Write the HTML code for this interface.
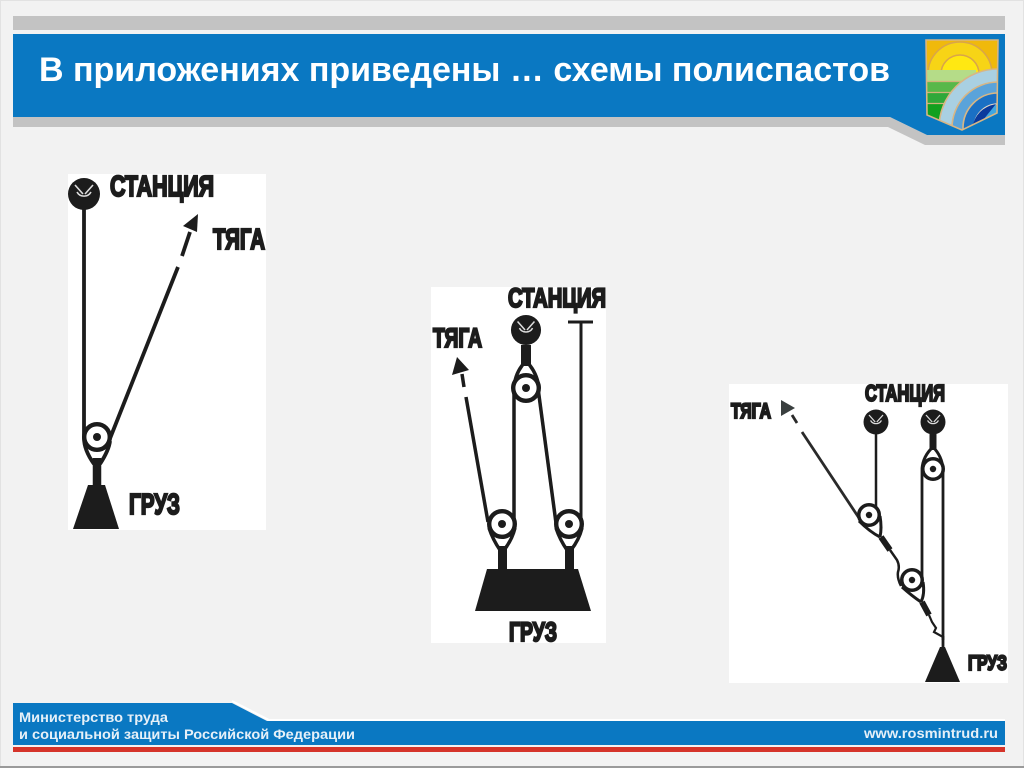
<!DOCTYPE html>
<html lang="ru">
<head>
<meta charset="utf-8">
<title>Схемы полиспастов</title>
<style>
html,body{margin:0;padding:0;width:1024px;height:768px;overflow:hidden;background:#f2f2f2}
svg{display:block}
.h{font-family:"Liberation Sans",sans-serif;font-weight:700;fill:#1c1c1c;stroke:#1c1c1c;stroke-width:2.200}
.t{font-family:"Liberation Sans",sans-serif;font-weight:700;fill:#fff}
.f{font-family:"Liberation Sans",sans-serif;font-weight:700;fill:#e6f0f8}
</style>
</head>
<body>
<svg width="1024" height="768" viewBox="0 0 1024 768" xmlns="http://www.w3.org/2000/svg">
<defs>
  <g id="st">
    <circle r="16" fill="#1c1c1c"/>
    <path d="M-9-9 L-1 0 M9-9 L1 0 M-7-2 A8 8 0 0 0 7-2" fill="none" stroke="#ddd" stroke-width="1.600"/>
    <path d="M-5-11 L0-4 L5-11" fill="none" stroke="#1c1c1c" stroke-width="1"/>
  </g>
  <g id="pu">
    <circle r="12.800" fill="#fff" stroke="#1c1c1c" stroke-width="4.400"/>
    <circle r="4" fill="#1c1c1c"/>
  </g>
  <clipPath id="lg"><path d="M926 40 H998 L997 113 L962 130 L927 115 Z"/></clipPath>
</defs>

<rect x=".5" y=".5" width="1023" height="766" fill="#f2f2f2" stroke="#e2e2e2"/>
<rect x="0" y="766" width="1024" height="2" fill="#9a9a9a"/>

<!-- header -->
<rect x="13" y="16" width="992" height="14" fill="#c3c3c3"/>
<path d="M13 117 H890 L927 135 H1005 V145 H925 L888 127 H13 Z" fill="#c3c3c3"/>
<path d="M13 34 H1005 V135 H927 L890 117 H13 Z" fill="#0a78c2"/>
<text class="t" x="39" y="81" font-size="34" textLength="851" lengthAdjust="spacingAndGlyphs">В приложениях приведены … схемы полиспастов</text>

<!-- logo -->
<g clip-path="url(#lg)">
  <rect x="926" y="40" width="72" height="90" fill="#f0b90c"/>
  <circle cx="960" cy="74" r="32" fill="#f7d416" stroke="#d9a54a" stroke-width="1.500"/>
  <circle cx="960" cy="74" r="19" fill="#ffe812" stroke="#d9a54a" stroke-width="1.500"/>
  <rect x="926" y="70" width="50" height="60" fill="#12a01e"/>
  <rect x="926" y="70" width="50" height="11" fill="#b5dc88"/>
  <rect x="926" y="82" width="50" height="10" fill="#58b84a"/>
  <rect x="926" y="93" width="50" height="10" fill="#2fa83a"/>
  <path d="M926 81.500H976M926 92.500H976M926 103.500H976" stroke="#d2b27c" stroke-width="1.200"/>
  <circle cx="998" cy="128" r="59" fill="#a9d0e2" stroke="#d8b684" stroke-width="1.600"/>
  <circle cx="998" cy="128" r="46" fill="#5aa3da" stroke="#d8b684" stroke-width="1.600"/>
  <circle cx="998" cy="128" r="35" fill="#1a70c4" stroke="#d8b684" stroke-width="1.600"/>
  <circle cx="998" cy="128" r="24" fill="#3fa7e2" stroke="#e4d9c8" stroke-width="1.600"/>
  <path d="M972 128 Q976 108 996 104 L975 130Z" fill="#0a3a9c"/>
</g>
<path d="M926 40 H998 L997 113 L962 130 L927 115 Z" fill="none" stroke="#d8b684" stroke-width="1.600"/>

<!-- diagram 1 -->
<rect x="68" y="174" width="198" height="356" fill="#fff"/>
<g fill="none" stroke="#1c1c1c">
  <path d="M84 194 V438 Q84 450 94 464" stroke-width="3.800"/>
  <path d="M110 441 Q109 450 100 464" stroke-width="3.800"/>
  <path d="M109 441 L178 267" stroke-width="3.800"/>
  <path d="M182 256 L190 232" stroke-width="3.800"/>
  <path d="M97 458 V488" stroke-width="8.500"/>
</g>
<path d="M198 214 L183 226 L197 232 Z" fill="#1c1c1c"/>
<path d="M88 485 H105 L119 529 H73 Z" fill="#1c1c1c"/>
<use href="#st" x="84" y="194"/>
<use href="#pu" x="97" y="437"/>
<text class="h" x="110" y="196" font-size="29" textLength="104" lengthAdjust="spacingAndGlyphs">СТАНЦИЯ</text>
<text class="h" x="213" y="249" font-size="29" textLength="52" lengthAdjust="spacingAndGlyphs">ТЯГА</text>
<text class="h" x="129" y="514" font-size="29" textLength="51" lengthAdjust="spacingAndGlyphs">ГРУЗ</text>

<!-- diagram 2 -->
<rect x="431" y="287" width="175" height="356" fill="#fff"/>
<g fill="none" stroke="#1c1c1c">
  <path d="M526 345 V366" stroke-width="10"/>
  <path d="M514 388 Q515 372 526 361 Q537 372 539 388" stroke-width="3.500"/>
  <path d="M514 388 V524" stroke-width="3.500"/>
  <path d="M538 388 L556 523" stroke-width="3.500"/>
  <path d="M581 322 V526" stroke-width="3"/>
  <path d="M568 322 H593" stroke-width="3"/>
  <path d="M488 522 L466 397" stroke-width="3.500"/>
  <path d="M464 387 L462 374" stroke-width="3.500"/>
  <path d="M489 528 Q493 540 500 550 M515 528 Q512 540 504 550" stroke-width="3.500"/>
  <path d="M556 528 Q560 540 567 550 M582 528 Q579 540 571 550" stroke-width="3.500"/>
  <path d="M502.500 546 V570 M569.500 546 V570" stroke-width="9"/>
</g>
<path d="M457 357 L452 375 L469 370 Z" fill="#1c1c1c"/>
<path d="M487 569 H578 L591 611 H475 Z" fill="#1c1c1c"/>
<use href="#st" transform="translate(526 330) scale(.94)"/>
<use href="#pu" x="526" y="388"/>
<use href="#pu" x="502" y="524"/>
<use href="#pu" x="569" y="524"/>
<text class="h" x="508" y="307" font-size="27" textLength="98" lengthAdjust="spacingAndGlyphs">СТАНЦИЯ</text>
<text class="h" x="433" y="347" font-size="27" textLength="49" lengthAdjust="spacingAndGlyphs">ТЯГА</text>
<text class="h" x="509" y="641" font-size="27" textLength="48" lengthAdjust="spacingAndGlyphs">ГРУЗ</text>

<!-- diagram 3 -->
<rect x="729" y="384" width="279" height="299" fill="#fff"/>
<g fill="none" stroke="#1c1c1c">
  <path d="M876 422 V508" stroke-width="2.500"/>
  <path d="M933 434 V450" stroke-width="7"/>
  <path d="M922 469 Q923 456 933 447 Q942 456 943 469" stroke-width="3"/>
  <path d="M922 469 V582" stroke-width="2.800"/>
  <path d="M943 469 V640" stroke-width="2.800"/>
  <path d="M859 518 L802 432" stroke-width="2.800" stroke="#2a2a2a"/>
  <path d="M797 423 L792 415" stroke-width="2.800" stroke="#2a2a2a"/>
  <path d="M859 521 Q870 532 880 537 M880 516 Q882 528 880 537" stroke-width="3"/>
  <path d="M881 537 L890 550" stroke-width="6"/>
  <path d="M890 550 L897 560 Q900 566 898 572 Q897 578 901 586" stroke-width="2.500"/>
  <path d="M902 587 Q912 596 921 602 M923 582 Q925 594 921 602" stroke-width="3"/>
  <path d="M922 602 L929 615" stroke-width="6"/>
  <path d="M929 615 L932 622 L936 628 L934 632 L943 637" stroke-width="2.200"/>
  <path d="M943 636 V648" stroke-width="2.800"/>
</g>
<path d="M781 400 L781 416 L795 408 Z" fill="#3a3f3f"/>
<path d="M940 647 H945 L960 682 H925 Z" fill="#1c1c1c"/>
<use href="#st" transform="translate(876 422) scale(.78)"/>
<use href="#st" transform="translate(933 422) scale(.78)"/>
<g transform="translate(933 469) scale(.8)"><use href="#pu"/></g>
<g transform="translate(869 515) scale(.8)"><use href="#pu"/></g>
<g transform="translate(912 580) scale(.8)"><use href="#pu"/></g>
<text class="h" x="865" y="401" font-size="23" textLength="80" lengthAdjust="spacingAndGlyphs">СТАНЦИЯ</text>
<text class="h" x="731" y="418" font-size="21" textLength="40" lengthAdjust="spacingAndGlyphs">ТЯГА</text>
<text class="h" x="968" y="670" font-size="21" textLength="39" lengthAdjust="spacingAndGlyphs">ГРУЗ</text>

<!-- footer -->
<path d="M13 703 H232 L267 721 H1005 V745 H13 Z" fill="#0a78c2"/>
<path d="M232 701 L269 720 H1005" fill="none" stroke="#fff" stroke-width="2"/>
<rect x="13" y="747" width="992" height="5" fill="#d5342a"/>
<text class="f" x="19" y="722" font-size="14" textLength="149" lengthAdjust="spacingAndGlyphs">Министерство труда</text>
<text class="f" x="19" y="739" font-size="14" textLength="336" lengthAdjust="spacingAndGlyphs">и социальной защиты Российской Федерации</text>
<text class="f" x="864" y="738" font-size="14" textLength="134" lengthAdjust="spacingAndGlyphs">www.rosmintrud.ru</text>
</svg>
</body>
</html>
